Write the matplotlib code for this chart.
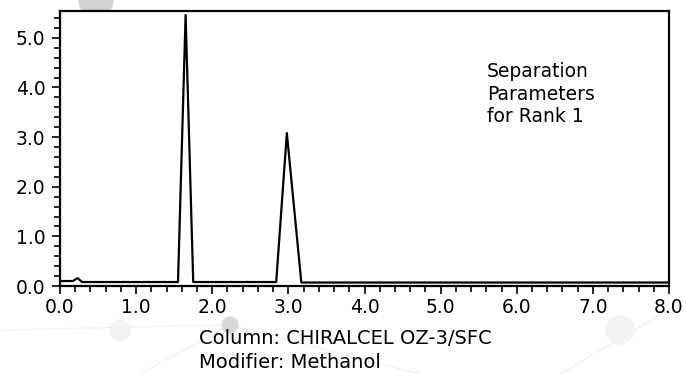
import matplotlib
matplotlib.use('Agg')
import matplotlib.pyplot as plt
from matplotlib.patches import Ellipse
from matplotlib.lines import Line2D
from matplotlib.ticker import MultipleLocator, FormatStrFormatter

plt.rcParams['font.family'] = ['DejaVu Sans']

# chromatogram trace (retention time in min, signal)
time_min = [0.0, 0.17, 0.23, 0.29, 1.55, 1.65, 1.75, 2.84, 2.98, 3.17, 8.0]
signal   = [0.10, 0.10, 0.16, 0.08, 0.08, 5.46, 0.08, 0.08, 3.08, 0.07, 0.07]

x_ticks = [0.0, 1.0, 2.0, 3.0, 4.0, 5.0, 6.0, 7.0, 8.0]
y_ticks = [0.0, 1.0, 2.0, 3.0, 4.0, 5.0]

note_text = "Separation\nParameters\nfor Rank 1"
column_text = "Column: CHIRALCEL OZ-3/SFC"
modifier_text = "Modifier: Methanol"

W, H = 686, 374
fig = plt.figure(figsize=(W / 100, H / 100), dpi=100)

# faint background decoration (pixel centre, radius)
deco = [(96, 0, 17, '#d4d4d4'), (230, 325, 8, '#d8d8d8'), (120, 330, 10, '#f3f3f3'),
        (620, 330, 14, '#f3f3f3')]
for px, py, r, c in deco:
    fig.patches.append(Ellipse((px / W, 1 - py / H), 2 * r / W, 2 * r / H,
                               transform=fig.transFigure, color=c, zorder=-2))
for xs, ys in [([0, 230, 420], [330, 325, 374]), ([230, 140], [325, 374]), ([560, 686], [374, 300])]:
    fig.lines.append(Line2D([x / W for x in xs], [1 - y / H for y in ys],
                            transform=fig.transFigure, color='#f0f0f0', lw=0.8, zorder=-2))

ax = fig.add_axes([60 / W, 1 - 286 / H, 609 / W, 275 / H])
ax.set_facecolor('white')
ax.plot(time_min, signal, color='black', lw=1.6)

ax.set_xlim(0, 8.0)
ax.set_ylim(0, 5.54)
ax.set_xticks(x_ticks)
ax.set_yticks(y_ticks)
ax.xaxis.set_major_formatter(FormatStrFormatter('%.1f'))
ax.yaxis.set_major_formatter(FormatStrFormatter('%.1f'))
ax.xaxis.set_minor_locator(MultipleLocator(0.2))
ax.yaxis.set_minor_locator(MultipleLocator(0.2))
ax.tick_params(which='major', length=5.5, width=1.2, labelsize=13.5, color='black')
ax.tick_params(axis='x', which='major', pad=3)
ax.tick_params(axis='y', which='major', pad=5)
ax.tick_params(which='minor', length=4, width=1.2, color='black')
for s in ax.spines.values():
    s.set_linewidth(1.6)

ax.text(427 / 609, 1 - 51 / 275, note_text, transform=ax.transAxes, fontsize=13.5,
        va='top', ha='left', linespacing=1.25)

fig.text(199 / W, 1 - 338 / H, column_text, fontsize=14, va='center', ha='left')
fig.text(199 / W, 1 - 362 / H, modifier_text, fontsize=14, va='center', ha='left')

fig.savefig('out.png', dpi=100)
